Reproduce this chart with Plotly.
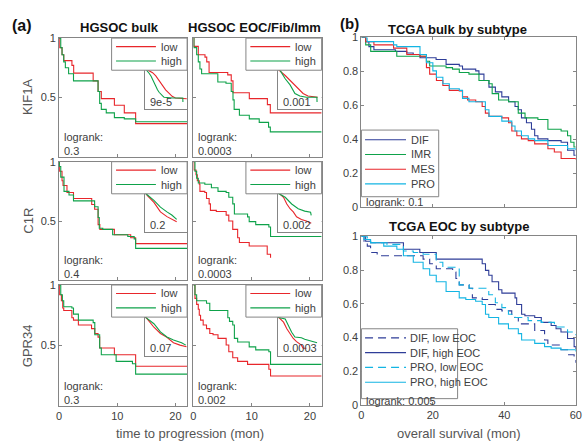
import plotly.graph_objects as go

# ================= DATA =================
# Panel (a): progression-free survival (months, surviving fraction), low vs high expression
kif1a_bulk_low_t = [0, 0.1, 0.5, 0.8, 2.2, 2.5, 5.85, 6.7, 7.25, 9.5, 11.2, 13.15, 22]
kif1a_bulk_low_s = [1, 0.92, 0.86, 0.81, 0.77, 0.705, 0.64, 0.55, 0.49, 0.435, 0.37, 0.28, 0.28]
kif1a_bulk_high_t = [0, 0.28, 0.5, 0.79, 1.07, 1.63, 2.47, 6.69, 6.97, 7.25, 8.1, 9.5, 11.2, 13.15, 22]
kif1a_bulk_high_s = [1, 0.92, 0.86, 0.80, 0.75, 0.70, 0.64, 0.55, 0.45, 0.40, 0.37, 0.33, 0.32, 0.295, 0.295]

kif1a_eoc_low_t = [0, 0.1, 0.85, 2.0, 2.3, 2.7, 5.9, 6.5, 6.8, 9.6, 12.7, 13.2, 22]
kif1a_eoc_low_s = [1, 0.93, 0.86, 0.84, 0.80, 0.71, 0.69, 0.64, 0.54, 0.49, 0.44, 0.37, 0.37]
kif1a_eoc_high_t = [0, 0.1, 0.57, 0.85, 1.13, 1.42, 4.2, 5.6, 6.5, 6.8, 7.0, 7.9, 9.6, 11.3, 12.9, 13.2, 22]
kif1a_eoc_high_s = [1, 0.92, 0.86, 0.80, 0.74, 0.70, 0.63, 0.62, 0.55, 0.48, 0.40, 0.35, 0.32, 0.29, 0.25, 0.21, 0.21]

c1r_bulk_low_t = [0, 0.06, 0.5, 0.67, 1.35, 2.47, 5.6, 6.1, 6.7, 7.0, 9.5, 12.3, 13.15, 22]
c1r_bulk_low_s = [1, 0.92, 0.84, 0.80, 0.74, 0.69, 0.64, 0.60, 0.47, 0.43, 0.385, 0.36, 0.31, 0.31]
c1r_bulk_high_t = [0, 0.06, 0.28, 0.84, 1.7, 2.47, 6.1, 6.7, 6.9, 7.5, 9.2, 11.8, 12.9, 13.15, 22]
c1r_bulk_high_s = [1, 0.96, 0.87, 0.75, 0.72, 0.67, 0.62, 0.53, 0.44, 0.43, 0.385, 0.37, 0.35, 0.27, 0.27]

c1r_eoc_low_t = [0, 0.12, 0.46, 0.68, 1.02, 1.13, 1.97, 2.26, 2.71, 2.93, 3.94, 5.63, 6.08, 6.76, 7.6, 7.9, 9.58, 12.67, 13.24]
c1r_eoc_low_s = [1, 0.93, 0.89, 0.84, 0.81, 0.75, 0.74, 0.69, 0.645, 0.59, 0.58, 0.55, 0.50, 0.43, 0.36, 0.32, 0.29, 0.22, 0.19]
c1r_eoc_high_t = [0, 0.28, 0.57, 0.85, 1.97, 3.1, 4.23, 5.63, 6.08, 6.76, 7.04, 9.3, 9.58, 10.7, 12.95, 13.24, 22]
c1r_eoc_high_s = [1, 0.92, 0.86, 0.82, 0.81, 0.78, 0.75, 0.74, 0.70, 0.645, 0.56, 0.535, 0.495, 0.47, 0.45, 0.37, 0.37]

gpr34_bulk_low_t = [0, 0.06, 0.39, 0.62, 0.79, 2.19, 2.47, 3.31, 5.57, 6.13, 6.69, 6.97, 9.5, 13.15, 22]
gpr34_bulk_low_s = [1, 0.92, 0.87, 0.81, 0.79, 0.73, 0.71, 0.67, 0.64, 0.60, 0.57, 0.48, 0.425, 0.33, 0.33]
gpr34_bulk_high_t = [0, 0.28, 0.56, 0.79, 2.19, 2.47, 3.31, 5.85, 6.13, 6.97, 7.25, 9.8, 12.6, 13.15, 22]
gpr34_bulk_high_s = [1, 0.92, 0.87, 0.82, 0.81, 0.76, 0.71, 0.69, 0.59, 0.48, 0.425, 0.37, 0.35, 0.265, 0.265]

gpr34_eoc_low_t = [0, 0.28, 0.57, 0.85, 1.02, 1.24, 1.69, 2.26, 2.82, 3.38, 4.23, 5.63, 6.08, 6.76, 7.6, 9.3, 12.95, 13.24, 22]
gpr34_eoc_low_s = [1, 0.89, 0.84, 0.80, 0.75, 0.71, 0.67, 0.64, 0.60, 0.59, 0.56, 0.505, 0.45, 0.40, 0.37, 0.345, 0.305, 0.25, 0.25]
gpr34_eoc_high_t = [0, 0.28, 0.57, 2.26, 2.82, 5.91, 6.2, 6.76, 7.04, 7.6, 9.58, 10.7, 12.95, 13.24, 22]
gpr34_eoc_high_s = [1, 0.92, 0.87, 0.85, 0.79, 0.73, 0.70, 0.67, 0.56, 0.53, 0.49, 0.465, 0.45, 0.345, 0.345]

# Insets (validation cohort curves, months 0-60, fraction)
inset_kif1a_bulk_low_t = [0, 3.7, 10.7, 15.3, 20, 24.7, 29.3, 34, 38.6, 43.3, 59.5]
inset_kif1a_bulk_low_s = [1, 0.96, 0.90, 0.82, 0.70, 0.58, 0.48, 0.40, 0.32, 0.28, 0.26]
inset_kif1a_bulk_high_t = [0, 3, 6, 8.4, 11, 13, 15.5, 17.7, 20, 22.3, 25, 27, 40, 53.8, 54]
inset_kif1a_bulk_high_s = [1, 0.95, 0.88, 0.82, 0.72, 0.62, 0.54, 0.48, 0.42, 0.37, 0.33, 0.30, 0.28, 0.28, 0.18]

inset_kif1a_eoc_low_t = [0, 0.9, 9.9, 18.8, 27.8, 34.5, 41.2, 54.6]
inset_kif1a_eoc_low_s = [1, 0.97, 0.83, 0.67, 0.51, 0.39, 0.33, 0.30]
inset_kif1a_eoc_high_t = [0, 3.1, 9.9, 16.6, 23.3, 30, 39, 53.5, 53.7]
inset_kif1a_eoc_high_s = [1, 0.95, 0.75, 0.60, 0.39, 0.33, 0.30, 0.30, 0.18]

inset_c1r_bulk_low_t = [0, 3.3, 12.6, 21.9, 31.2, 40.5, 45.1]
inset_c1r_bulk_low_s = [1, 0.92, 0.75, 0.51, 0.39, 0.30, 0.26]
inset_c1r_bulk_high_t = [0, 0.9, 12.6, 21.9, 31.2, 38.1, 45.1]
inset_c1r_bulk_high_s = [1, 0.975, 0.80, 0.63, 0.51, 0.43, 0.32]

inset_c1r_eoc_low_t = [0, 7.6, 12.1, 16.6, 21, 25.5, 32.2, 39, 45.7]
inset_c1r_eoc_low_s = [1, 0.88, 0.71, 0.59, 0.51, 0.385, 0.32, 0.28, 0.22]
inset_c1r_eoc_high_t = [0, 0.9, 9.9, 18.8, 27.8, 36.7, 44.8, 45.7]
inset_c1r_eoc_high_s = [1, 0.975, 0.88, 0.71, 0.59, 0.53, 0.50, 0.42]

inset_gpr34_bulk_low_t = [0, 3.3, 12.6, 21.9, 31.2, 40.5, 49.8, 59.1]
inset_gpr34_bulk_low_s = [1, 0.94, 0.73, 0.57, 0.47, 0.33, 0.27, 0.23]
inset_gpr34_bulk_high_t = [0, 0.9, 12.6, 21.9, 31.2, 40.5, 52.1, 58.1]
inset_gpr34_bulk_high_s = [1, 0.983, 0.82, 0.61, 0.48, 0.40, 0.33, 0.27]

inset_gpr34_eoc_low_t = [0, 7.6, 12.1, 16.6, 21, 25.5, 32.2, 34.5, 39]
inset_gpr34_eoc_low_s = [1, 0.86, 0.69, 0.57, 0.44, 0.36, 0.27, 0.19, 0.19]
inset_gpr34_eoc_high_t = [0, 0.9, 9.9, 14.3, 18.8, 23.3, 32.2, 36.7, 45.7, 53.7]
inset_gpr34_eoc_high_s = [1, 0.98, 0.94, 0.77, 0.60, 0.48, 0.46, 0.42, 0.38, 0.33]

# Panel (b) top: TCGA bulk by subtype (overall survival, months)
dif_t = [0, 1.2, 2.1, 3.5, 9.5, 12.7, 14.5, 16.4, 20.9, 23.7, 27.4, 28.3, 32.0, 32.9, 34.3, 35.7, 37.5, 39.3, 41.2, 43.0, 43.9, 44.8, 46.2, 47.6, 48.5, 49.4, 52.2, 55.9, 57.7, 59.5, 60]
dif_s = [1, 0.975, 0.946, 0.927, 0.918, 0.908, 0.899, 0.880, 0.870, 0.841, 0.832, 0.813, 0.803, 0.784, 0.746, 0.707, 0.679, 0.650, 0.621, 0.593, 0.574, 0.526, 0.497, 0.459, 0.421, 0.402, 0.392, 0.382, 0.335, 0.306, 0.306]
imr_t = [0, 1.2, 2.6, 9.9, 18.2, 19.1, 23.7, 25.5, 27.4, 30.1, 32.9, 35.7, 36.6, 38.4, 41.2, 43.9, 45.8, 49.4, 52.2, 55.9, 57.7, 58.6, 59.5, 60]
imr_s = [1, 0.956, 0.918, 0.889, 0.86, 0.832, 0.822, 0.813, 0.793, 0.784, 0.746, 0.727, 0.669, 0.631, 0.621, 0.554, 0.526, 0.516, 0.459, 0.449, 0.421, 0.382, 0.354, 0.354]
mes_t = [0, 1.2, 3.5, 9.0, 12.7, 16.4, 18.2, 19.1, 21.0, 22.8, 24.6, 27.4, 28.3, 29.7, 32.0, 33.8, 34.7, 35.7, 39.3, 41.2, 42.1, 43.5, 44.8, 46.7, 48.5, 52.2, 54.0, 55.9, 60]
mes_s = [1, 0.975, 0.956, 0.937, 0.899, 0.889, 0.822, 0.784, 0.746, 0.717, 0.688, 0.685, 0.65, 0.631, 0.621, 0.593, 0.554, 0.535, 0.526, 0.497, 0.449, 0.421, 0.402, 0.392, 0.373, 0.344, 0.325, 0.287, 0.28]
pro_t = [0, 1.6, 9.0, 9.9, 16.4, 18.2, 20.0, 21.0, 22.8, 24.6, 27.4, 28.3, 30.1, 34.7, 35.7, 39.3, 42.1, 43.0, 44.8, 46.7, 48.5, 52.2, 57.7, 60]
pro_s = [1, 0.975, 0.956, 0.946, 0.899, 0.851, 0.803, 0.765, 0.727, 0.698, 0.688, 0.641, 0.621, 0.574, 0.535, 0.507, 0.478, 0.449, 0.421, 0.402, 0.392, 0.363, 0.344, 0.335]

# Panel (b) bottom: TCGA EOC by subtype
dif_low_t = [0, 0.74, 1.65, 2.57, 4.41, 17.27, 19.11, 20.95, 25.54, 26.46, 27.38, 30.14, 31.06, 33.81, 35.65, 37.49, 39.32, 42.08, 43.92, 48.51, 51.27, 52.19, 55.86, 57.7, 59.54, 60]
dif_low_s = [1, 0.971, 0.942, 0.904, 0.885, 0.865, 0.837, 0.808, 0.788, 0.75, 0.712, 0.692, 0.635, 0.625, 0.596, 0.567, 0.558, 0.519, 0.481, 0.442, 0.385, 0.356, 0.327, 0.298, 0.269, 0.25]
dif_high_t = [0, 1.19, 2.57, 11.76, 16.35, 20.95, 33.81, 34.73, 35.65, 36.57, 38.41, 39.32, 43.0, 43.46, 44.84, 45.76, 48.51, 50.35, 53.11, 54.48, 55.86, 57.7, 59.54, 60]
dif_high_s = [1, 0.971, 0.962, 0.923, 0.904, 0.865, 0.837, 0.798, 0.769, 0.731, 0.683, 0.663, 0.635, 0.596, 0.538, 0.529, 0.519, 0.49, 0.471, 0.452, 0.433, 0.394, 0.346, 0.33]
pro_low_t = [0, 1.65, 2.57, 7.17, 11.76, 14.52, 17.27, 20.95, 22.79, 27.38, 30.14, 35.65, 37.49, 39.32, 41.16, 43.0, 46.67, 50.35, 54.02, 57.7, 59.54, 60]
pro_low_s = [1, 0.971, 0.962, 0.952, 0.913, 0.904, 0.894, 0.846, 0.817, 0.712, 0.692, 0.654, 0.606, 0.577, 0.538, 0.519, 0.5, 0.49, 0.462, 0.433, 0.423, 0.413]
pro_high_t = [0, 0.74, 2.57, 6.25, 9.92, 11.76, 14.52, 17.27, 19.11, 20.95, 23.7, 27.38, 29.22, 31.97, 33.81, 34.73, 35.65, 38.41, 41.16, 43.92, 44.84, 48.51, 51.27, 53.11, 55.86, 60]
pro_high_s = [1, 0.981, 0.962, 0.942, 0.923, 0.885, 0.846, 0.808, 0.769, 0.731, 0.673, 0.635, 0.625, 0.615, 0.596, 0.538, 0.519, 0.481, 0.452, 0.423, 0.385, 0.365, 0.346, 0.337, 0.327, 0.317]

# Labels
genes = ["KIF1A", "C1R", "GPR34"]
cohorts = ["HGSOC bulk", "HGSOC EOC/Fib/Imm"]
group_names = ["low", "high"]
logrank_a = [["0.3", "0.0003"], ["0.4", "0.0003"], ["0.3", "0.002"]]
inset_p = [["9e-5", "0.001"], ["0.2", "0.002"], ["0.07", "0.0003"]]
subtypes_top = ["DIF", "IMR", "MES", "PRO"]
groups_bottom = ["DIF, low EOC", "DIF, high EOC", "PRO, low EOC", "PRO, high EOC"]
logrank_b = ["0.1", "0.005"]
a_x_ticks = [0, 10, 20]
a_y_ticks = [0, 0.5, 1]
a_y_ticktext = ["", "0.5", "1"]
b_x_ticks = [0, 20, 40, 60]
b_y_ticks = [0, 0.2, 0.4, 0.6, 0.8, 1]
b_y_ticktext = ["0", "0.2", "0.4", "0.6", "0.8", "1"]

# ================= STYLE / LAYOUT =================
W, H = 586, 446
RED = "#e8262b"
GREEN = "#0ea24a"
NAVY = "#2e3d98"
CYAN = "#13b5e3"
AX = "#858585"
TXT = "#404040"
FONT = "Liberation Sans, Arial, Helvetica, sans-serif"


def fx(p):
    return p / W


def fy(p):
    return 1 - p / H


col_x = [(57, 187), (193.3, 323.6)]
row_y = [(33, 155), (160, 282), (286.7, 411.3)]
inset_x = [(144.3, 187), (279.3, 323.6)]
inset_y = [(64.3, 106.3), (191.7, 232.3), (319.3, 359.3)]
legend_x = [(110.3, 187), (246.7, 323.6)]

main_curves = [
    [(kif1a_bulk_low_t, kif1a_bulk_low_s, kif1a_bulk_high_t, kif1a_bulk_high_s),
     (kif1a_eoc_low_t, kif1a_eoc_low_s, kif1a_eoc_high_t, kif1a_eoc_high_s)],
    [(c1r_bulk_low_t, c1r_bulk_low_s, c1r_bulk_high_t, c1r_bulk_high_s),
     (c1r_eoc_low_t, c1r_eoc_low_s, c1r_eoc_high_t, c1r_eoc_high_s)],
    [(gpr34_bulk_low_t, gpr34_bulk_low_s, gpr34_bulk_high_t, gpr34_bulk_high_s),
     (gpr34_eoc_low_t, gpr34_eoc_low_s, gpr34_eoc_high_t, gpr34_eoc_high_s)],
]
inset_curves = [
    [(inset_kif1a_bulk_low_t, inset_kif1a_bulk_low_s, inset_kif1a_bulk_high_t, inset_kif1a_bulk_high_s),
     (inset_kif1a_eoc_low_t, inset_kif1a_eoc_low_s, inset_kif1a_eoc_high_t, inset_kif1a_eoc_high_s)],
    [(inset_c1r_bulk_low_t, inset_c1r_bulk_low_s, inset_c1r_bulk_high_t, inset_c1r_bulk_high_s),
     (inset_c1r_eoc_low_t, inset_c1r_eoc_low_s, inset_c1r_eoc_high_t, inset_c1r_eoc_high_s)],
    [(inset_gpr34_bulk_low_t, inset_gpr34_bulk_low_s, inset_gpr34_bulk_high_t, inset_gpr34_bulk_high_s),
     (inset_gpr34_eoc_low_t, inset_gpr34_eoc_low_s, inset_gpr34_eoc_high_t, inset_gpr34_eoc_high_s)],
]

fig = go.Figure()
layout = dict(width=W, height=H, margin=dict(l=0, r=0, t=0, b=0),
              paper_bgcolor="white", plot_bgcolor="white", showlegend=False,
              font=dict(family=FONT, color=TXT, size=11))
shapes = []
annotations = []


def names(i):
    return ("x" if i == 1 else f"x{i}", "y" if i == 1 else f"y{i}",
            "xaxis" if i == 1 else f"xaxis{i}", "yaxis" if i == 1 else f"yaxis{i}")


common = dict(showgrid=False, zeroline=False, showline=True, linecolor=AX, linewidth=1,
              mirror="allticks", ticks="inside", ticklen=3, tickcolor=AX,
              tickfont=dict(size=11, color=TXT, family=FONT), fixedrange=True,
              ticklabeloverflow="allow")


def add_line(i, t, s, color, dash="solid", shape="hv", width=1.1):
    xr, yr, _, _ = names(i)
    fig.add_trace(go.Scatter(x=t, y=s, mode="lines", xaxis=xr, yaxis=yr,
                             line=dict(color=color, width=width, shape=shape, dash=dash),
                             hoverinfo="skip", showlegend=False))


def text(x, y, s, size=11, color=TXT, xanchor="left", bold=False, angle=0):
    annotations.append(dict(x=fx(x), y=fy(y), xref="paper", yref="paper", text=(f"<b>{s}</b>" if bold else s),
                            showarrow=False, xanchor=xanchor, yanchor="middle", textangle=angle,
                            font=dict(size=size, color=color, family=FONT)))


# ---- panel (a) ----
for r in range(3):
    for c in range(2):
        i = r * 2 + c + 1
        xr, yr, xk, yk = names(i)
        layout[xk] = dict(common, domain=[fx(col_x[c][0]), fx(col_x[c][1])], range=[0, 22], anchor=yr,
                          tickvals=a_x_ticks, showticklabels=(r == 2))
        layout[yk] = dict(common, domain=[fy(row_y[r][1]), fy(row_y[r][0])], range=[0, 1], anchor=xr,
                          tickvals=a_y_ticks, ticktext=a_y_ticktext, showticklabels=(c == 0))
        lt, ls, ht, hs = main_curves[r][c]
        add_line(i, lt, ls, RED)
        add_line(i, ht, hs, GREEN)
        # inset
        j = 6 + i
        xr2, yr2, xk2, yk2 = names(j)
        layout[xk2] = dict(domain=[fx(inset_x[c][0]), fx(inset_x[c][1])], range=[0, 60], anchor=yr2,
                           showgrid=False, zeroline=False, showline=True, mirror=True, linecolor=AX,
                           ticks="", showticklabels=False, fixedrange=True)
        layout[yk2] = dict(domain=[fy(inset_y[r][1]), fy(inset_y[r][0])], range=[0, 1], anchor=xr2,
                           showgrid=False, zeroline=False, showline=True, mirror=True, linecolor=AX,
                           ticks="", showticklabels=False, fixedrange=True)
        ilt, ils, iht, ihs = inset_curves[r][c]
        add_line(j, ilt, ils, RED, shape="linear")
        add_line(j, iht, ihs, GREEN, shape="linear")
        text(inset_x[c][0] + 3.4, inset_y[r][1] - 7.5, inset_p[r][c], size=11)
        # legend box
        top = row_y[r][0]
        lx0, lx1 = legend_x[c]
        shapes.append(dict(type="rect", xref="paper", yref="paper", x0=fx(lx0), x1=fx(lx1),
                           y0=fy(top + 33), y1=fy(top), fillcolor="white", line=dict(color=AX, width=1)))
        for k, (nm, colr) in enumerate(zip(group_names, [RED, GREEN])):
            yy = top + 8.7 + 14.8 * k
            shapes.append(dict(type="line", xref="paper", yref="paper", x0=fx(lx0 + 4.5), x1=fx(lx0 + 45),
                               y0=fy(yy), y1=fy(yy), line=dict(color=colr, width=1.1)))
            text(lx0 + 48, yy, nm, size=11)
        # logrank
        text(col_x[c][0] + 3, row_y[r][1] - 20.5, "logrank:", size=11)
        text(col_x[c][0] + 3, row_y[r][1] - 6.5, logrank_a[r][c], size=11)
    text(25, (row_y[r][0] + row_y[r][1]) / 2, genes[r], size=13, color="#555555", xanchor="center", angle=-90)

text(118.5, 22.5, cohorts[0], size=13, color="#111111", xanchor="center", bold=True)
text(255, 22.5, cohorts[1], size=13, color="#111111", xanchor="center", bold=True)
text(7, 20, "(a)", size=16, color="#111111", bold=True)
text(340, 18, "(b)", size=15, color="#111111", bold=True)
text(190, 439, "time to progression (mon)", size=13, color="#555555", xanchor="center")
text(463, 439.5, "overall survival (mon)", size=13, color="#555555", xanchor="center")

# ---- panel (b) ----
bx = (364, 581.7)
b_rows = [(32.3, 206.7), (236.7, 410)]
for k, i in enumerate([13, 14]):
    xr, yr, xk, yk = names(i)
    layout[xk] = dict(common, domain=[fx(bx[0]), fx(bx[1])], range=[0, 60], anchor=yr,
                      tickvals=b_x_ticks, showticklabels=(k == 1))
    layout[yk] = dict(common, domain=[fy(b_rows[k][1]), fy(b_rows[k][0])], range=[0, 1], anchor=xr,
                      tickvals=b_y_ticks, ticktext=b_y_ticktext, showticklabels=True)

add_line(13, dif_t, dif_s, NAVY)
add_line(13, imr_t, imr_s, GREEN)
add_line(13, mes_t, mes_s, RED)
add_line(13, pro_t, pro_s, CYAN)

add_line(14, dif_low_t, dif_low_s, NAVY, dash="8px,5px")
add_line(14, dif_high_t, dif_high_s, NAVY)
add_line(14, pro_low_t, pro_low_s, CYAN, dash="8px,5px")
add_line(14, pro_high_t, pro_high_s, CYAN)

text(461.7, 24, "TCGA bulk by subtype", size=13, color="#111111", xanchor="center", bold=True)
text(463.5, 226.7, "TCGA EOC by subtype", size=13, color="#111111", xanchor="center", bold=True)

# legend top
shapes.append(dict(type="rect", xref="paper", yref="paper", x0=fx(364), x1=fx(442.5),
                   y0=fy(196), y1=fy(127.5), fillcolor="white", line=dict(color=AX, width=1)))
for k, (nm, colr) in enumerate(zip(subtypes_top, [NAVY, GREEN, RED, CYAN])):
    yy = 137.5 + 15.1 * k
    shapes.append(dict(type="line", xref="paper", yref="paper", x0=fx(367.7), x1=fx(409.3),
                       y0=fy(yy), y1=fy(yy), line=dict(color=colr, width=1.1)))
    text(412, yy, nm, size=11)
text(366.5, 201, "logrank: " + logrank_b[0], size=11)

# legend bottom
shapes.append(dict(type="rect", xref="paper", yref="paper", x0=fx(364), x1=fx(461.7),
                   y0=fy(403.5), y1=fy(331.7), fillcolor="white", line=dict(color=AX, width=1)))
for k, (nm, colr, dsh) in enumerate(zip(groups_bottom, [NAVY, NAVY, CYAN, CYAN],
                                         ["8px,5px", "solid", "8px,5px", "solid"])):
    yy = 341 + 15.2 * k
    shapes.append(dict(type="line", xref="paper", yref="paper", x0=fx(367.7), x1=fx(409.3),
                       y0=fy(yy), y1=fy(yy), line=dict(color=colr, width=1.1, dash=dsh)))
    text(411.5, yy, nm, size=11)
text(366.5, 405.5, "logrank: " + logrank_b[1], size=11)

layout["shapes"] = shapes
layout["annotations"] = annotations
fig.update_layout(**layout)
fig.write_html("out.html", config={"displayModeBar": False, "staticPlot": True},
               post_script="document.body.style.margin='0';document.body.style.overflow='hidden';")
